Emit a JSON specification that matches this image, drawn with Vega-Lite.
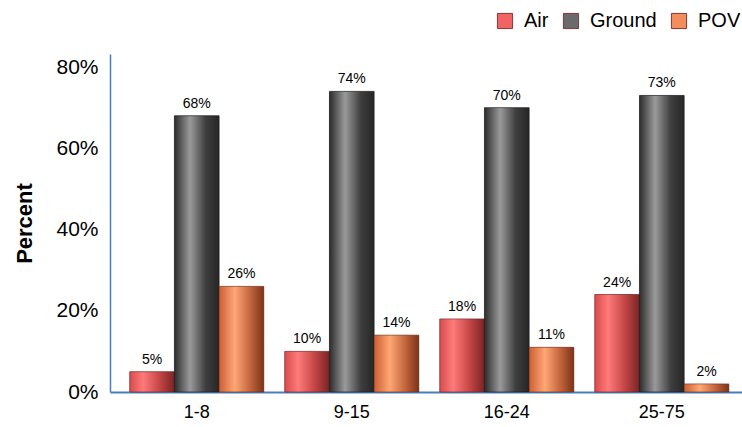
{
  "$schema": "https://vega.github.io/schema/vega-lite/v6.json",
  "autosize": {"type": "none"},
  "width": 632,
  "height": 338,
  "padding": {"left": 110, "top": 54, "right": 0, "bottom": 35},
  "background": "white",
  "config": {
    "view": {"stroke": null},
    "font": "Liberation Sans",
    "axis": {"labelFont": "Liberation Sans", "titleFont": "Liberation Sans", "labelColor": "#000", "titleColor": "#000"},
    "legend": {"labelFont": "Liberation Sans"}
  },
  "data": {
    "values": [
      {"group": "1-8", "mode": "Air", "value": 0.05},
      {"group": "1-8", "mode": "Ground", "value": 0.68},
      {"group": "1-8", "mode": "POV", "value": 0.26},
      {"group": "9-15", "mode": "Air", "value": 0.10},
      {"group": "9-15", "mode": "Ground", "value": 0.74},
      {"group": "9-15", "mode": "POV", "value": 0.14},
      {"group": "16-24", "mode": "Air", "value": 0.18},
      {"group": "16-24", "mode": "Ground", "value": 0.70},
      {"group": "16-24", "mode": "POV", "value": 0.11},
      {"group": "25-75", "mode": "Air", "value": 0.24},
      {"group": "25-75", "mode": "Ground", "value": 0.73},
      {"group": "25-75", "mode": "POV", "value": 0.02}
    ]
  },
  "encoding": {
    "x": {
      "field": "group", "type": "nominal", "sort": ["1-8", "9-15", "16-24", "25-75"],
      "scale": {"paddingInner": 0.135, "paddingOuter": 0.106, "align": 0.6},
      "axis": {"title": null, "labelAngle": 0, "ticks": false, "domainColor": "#4a7ebb", "domainWidth": 2, "labelFontSize": 18, "labelPadding": 11}
    },
    "xOffset": {"field": "mode", "type": "nominal", "sort": ["Air", "Ground", "POV"], "scale": {"paddingInner": 0, "paddingOuter": 0}},
    "y": {
      "field": "value", "type": "quantitative",
      "scale": {"domain": [0, 0.832], "nice": false, "zero": true},
      "axis": {"values": [0, 0.2, 0.4, 0.6, 0.8], "format": ".0%", "ticks": false, "grid": false, "domainColor": "#4a7ebb", "domainWidth": 1.5, "labelFontSize": 21, "labelPadding": 12, "title": "Percent", "titleFontSize": 22, "titleFontWeight": "bold", "titlePadding": 19}
    }
  },
  "layer": [
    {
      "mark": {"type": "bar", "opacity": 1},
      "encoding": {
        "color": {
          "field": "mode", "type": "nominal", "sort": ["Air", "Ground", "POV"],
          "scale": {"domain": ["Air", "Ground", "POV"], "range": ["#f06464", "#6a6a6a", "#f38d5c"]},
          "legend": {
            "title": null, "orient": "none", "legendX": 385, "legendY": -43, "direction": "horizontal",
            "symbolType": "square", "symbolSize": 230, "symbolStrokeColor": "#7a3a3a", "symbolStrokeWidth": 1,
            "labelFontSize": 20, "labelOffset": 9, "columnPadding": 12, "padding": 0, "symbolOpacity": 1
          }
        }
      }
    },
    {
      "transform": [{"filter": "datum.mode === 'Air'"}],
      "mark": {"type": "bar", "stroke": "#6a2020", "strokeWidth": 0.6,
        "fill": {"gradient": "linear", "x1": 0, "y1": 0, "x2": 1, "y2": 0,
          "stops": [{"offset": 0, "color": "#d84c4c"}, {"offset": 0.3, "color": "#ff7a7a"}, {"offset": 0.65, "color": "#c84848"}, {"offset": 1, "color": "#7a2424"}]}}
    },
    {
      "transform": [{"filter": "datum.mode === 'Ground'"}],
      "mark": {"type": "bar", "stroke": "#1a1a1a", "strokeWidth": 0.6,
        "fill": {"gradient": "linear", "x1": 0, "y1": 0, "x2": 1, "y2": 0,
          "stops": [{"offset": 0, "color": "#2c2c2c"}, {"offset": 0.35, "color": "#9a9a9a"}, {"offset": 0.7, "color": "#3e3e3e"}, {"offset": 1, "color": "#262626"}]}}
    },
    {
      "transform": [{"filter": "datum.mode === 'POV'"}],
      "mark": {"type": "bar", "stroke": "#6a2c14", "strokeWidth": 0.6,
        "fill": {"gradient": "linear", "x1": 0, "y1": 0, "x2": 1, "y2": 0,
          "stops": [{"offset": 0, "color": "#cc5e36"}, {"offset": 0.35, "color": "#ffa775"}, {"offset": 0.7, "color": "#c2643c"}, {"offset": 1, "color": "#7a3418"}]}}
    },
    {
      "mark": {"type": "text", "baseline": "bottom", "dy": -5, "fontSize": 14, "color": "#000"},
      "encoding": {"text": {"field": "value", "type": "quantitative", "format": ".0%"}}
    }
  ]
}
